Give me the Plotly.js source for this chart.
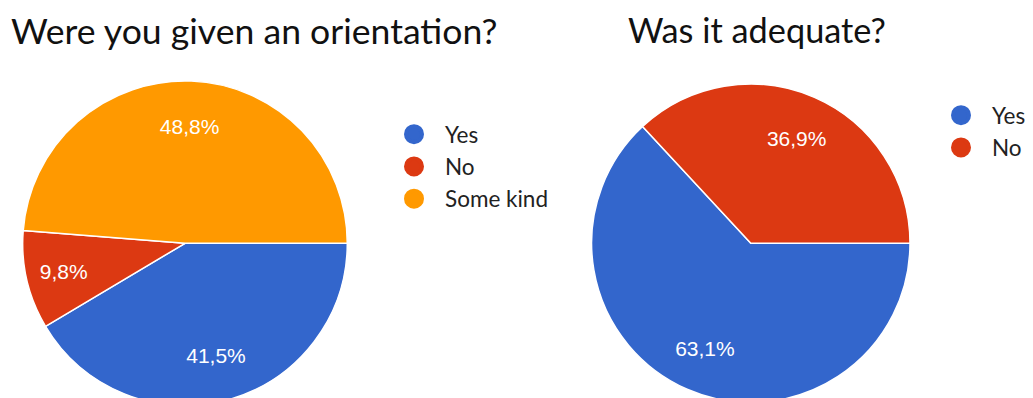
<!DOCTYPE html>
<html>
<head>
<meta charset="utf-8">
<script src="https://cdn.plot.ly/plotly-3.0.1.min.js"></script>
<style>
html, body { margin: 0; padding: 0; width: 1033px; height: 398px; overflow: hidden; background: #fff; }
#chart { width: 1033px; height: 430px; }
</style>
</head>
<body>
<div id="chart"></div>
<script>
// ---- data ----
const q1Title = 'Were you given an orientation?';
const q1Labels = ['Yes', 'No', 'Some kind'];
const q1Values = [41.5, 9.8, 48.8];

const q2Title = 'Was it adequate?';
const q2Labels = ['Yes', 'No'];
const q2Values = [63.1, 36.9];

const sliceColors = ['#3366cc', '#dc3912', '#ff9900'];

// ---- helpers ----
const fmt = v => v.toFixed(1).replace('.', ',') + '%';
const W = 1033, H = 430;

const pieCommon = {
  type: 'pie',
  sort: false,
  direction: 'clockwise',
  rotation: 90,
  hoverinfo: 'none',
  showlegend: false
};

const dom1 = { x: [22.7 / W, 347.3 / W], y: [(H - 405.6) / H, (H - 81) / H] };
const dom2 = { x: [591.6 / W, 910 / W], y: [(H - 402.5) / H, (H - 84.1) / H] };

function solidPie(labels, values, dom) {
  return Object.assign({}, pieCommon, {
    labels: labels, values: values, textinfo: 'none',
    marker: { colors: sliceColors.slice(0, labels.length), line: { color: '#ffffff', width: 1.5 } },
    domain: dom
  });
}
// transparent ring on top, only used to place the percentage labels further out
function labelRing(labels, values, dom) {
  return Object.assign({}, pieCommon, {
    labels: labels, values: values, hole: 0.44,
    text: values.map(fmt), textinfo: 'text', textposition: 'inside',
    insidetextorientation: 'horizontal',
    textfont: { family: 'Liberation Sans, Arial, sans-serif', size: 21, color: '#ffffff' },
    marker: { colors: labels.map(() => 'rgba(0,0,0,0)'), line: { width: 0 } },
    domain: dom
  });
}

const traces = [
  solidPie(q1Labels, q1Values, dom1),
  solidPie(q2Labels, q2Values, dom2),
  labelRing(q1Labels, q1Values, dom1),
  labelRing(q2Labels, q2Values, dom2)
];

// legend entries (circle markers)
q1Labels.forEach((lab, i) => traces.push({
  type: 'scatter', mode: 'markers', x: [null], y: [null], name: lab,
  marker: { color: sliceColors[i], size: 16, symbol: 'circle', line: { color: sliceColors[i], width: 4 } },
  legend: 'legend', hoverinfo: 'none'
}));
q2Labels.forEach((lab, i) => traces.push({
  type: 'scatter', mode: 'markers', x: [null], y: [null], name: lab,
  marker: { color: sliceColors[i], size: 16, symbol: 'circle', line: { color: sliceColors[i], width: 4 } },
  legend: 'legend2', hoverinfo: 'none'
}));

const legendFont = { family: 'Lato, Calibri, sans-serif', size: 22.5, color: '#222222' };

const layout = {
  width: W, height: H,
  margin: { l: 0, r: 0, t: 0, b: 0 },
  paper_bgcolor: '#ffffff', plot_bgcolor: '#ffffff',
  xaxis: { visible: false }, yaxis: { visible: false },
  legend: { x: 383 / W, y: (H - 113) / H, xanchor: 'left', yanchor: 'top', font: legendFont,
            bgcolor: 'rgba(0,0,0,0)', itemwidth: 52, tracegroupgap: 0 },
  legend2: { x: 930 / W, y: (H - 94) / H, xanchor: 'left', yanchor: 'top', font: legendFont,
             bgcolor: 'rgba(0,0,0,0)', itemwidth: 52, tracegroupgap: 0 },
  annotations: [
    { text: q1Title, xref: 'paper', yref: 'paper', x: 9 / W, y: (H - 7) / H, xanchor: 'left', yanchor: 'top',
      showarrow: false, font: { family: 'Lato, Calibri, sans-serif', size: 35.6, color: '#111111' } },
    { text: q2Title, xref: 'paper', yref: 'paper', x: 626 / W, y: (H - 7) / H, xanchor: 'left', yanchor: 'top',
      showarrow: false, font: { family: 'Lato, Calibri, sans-serif', size: 34.3, color: '#111111' } }
  ]
};

Plotly.newPlot('chart', traces, layout, { displayModeBar: false, staticPlot: true });
</script>
</body>
</html>
